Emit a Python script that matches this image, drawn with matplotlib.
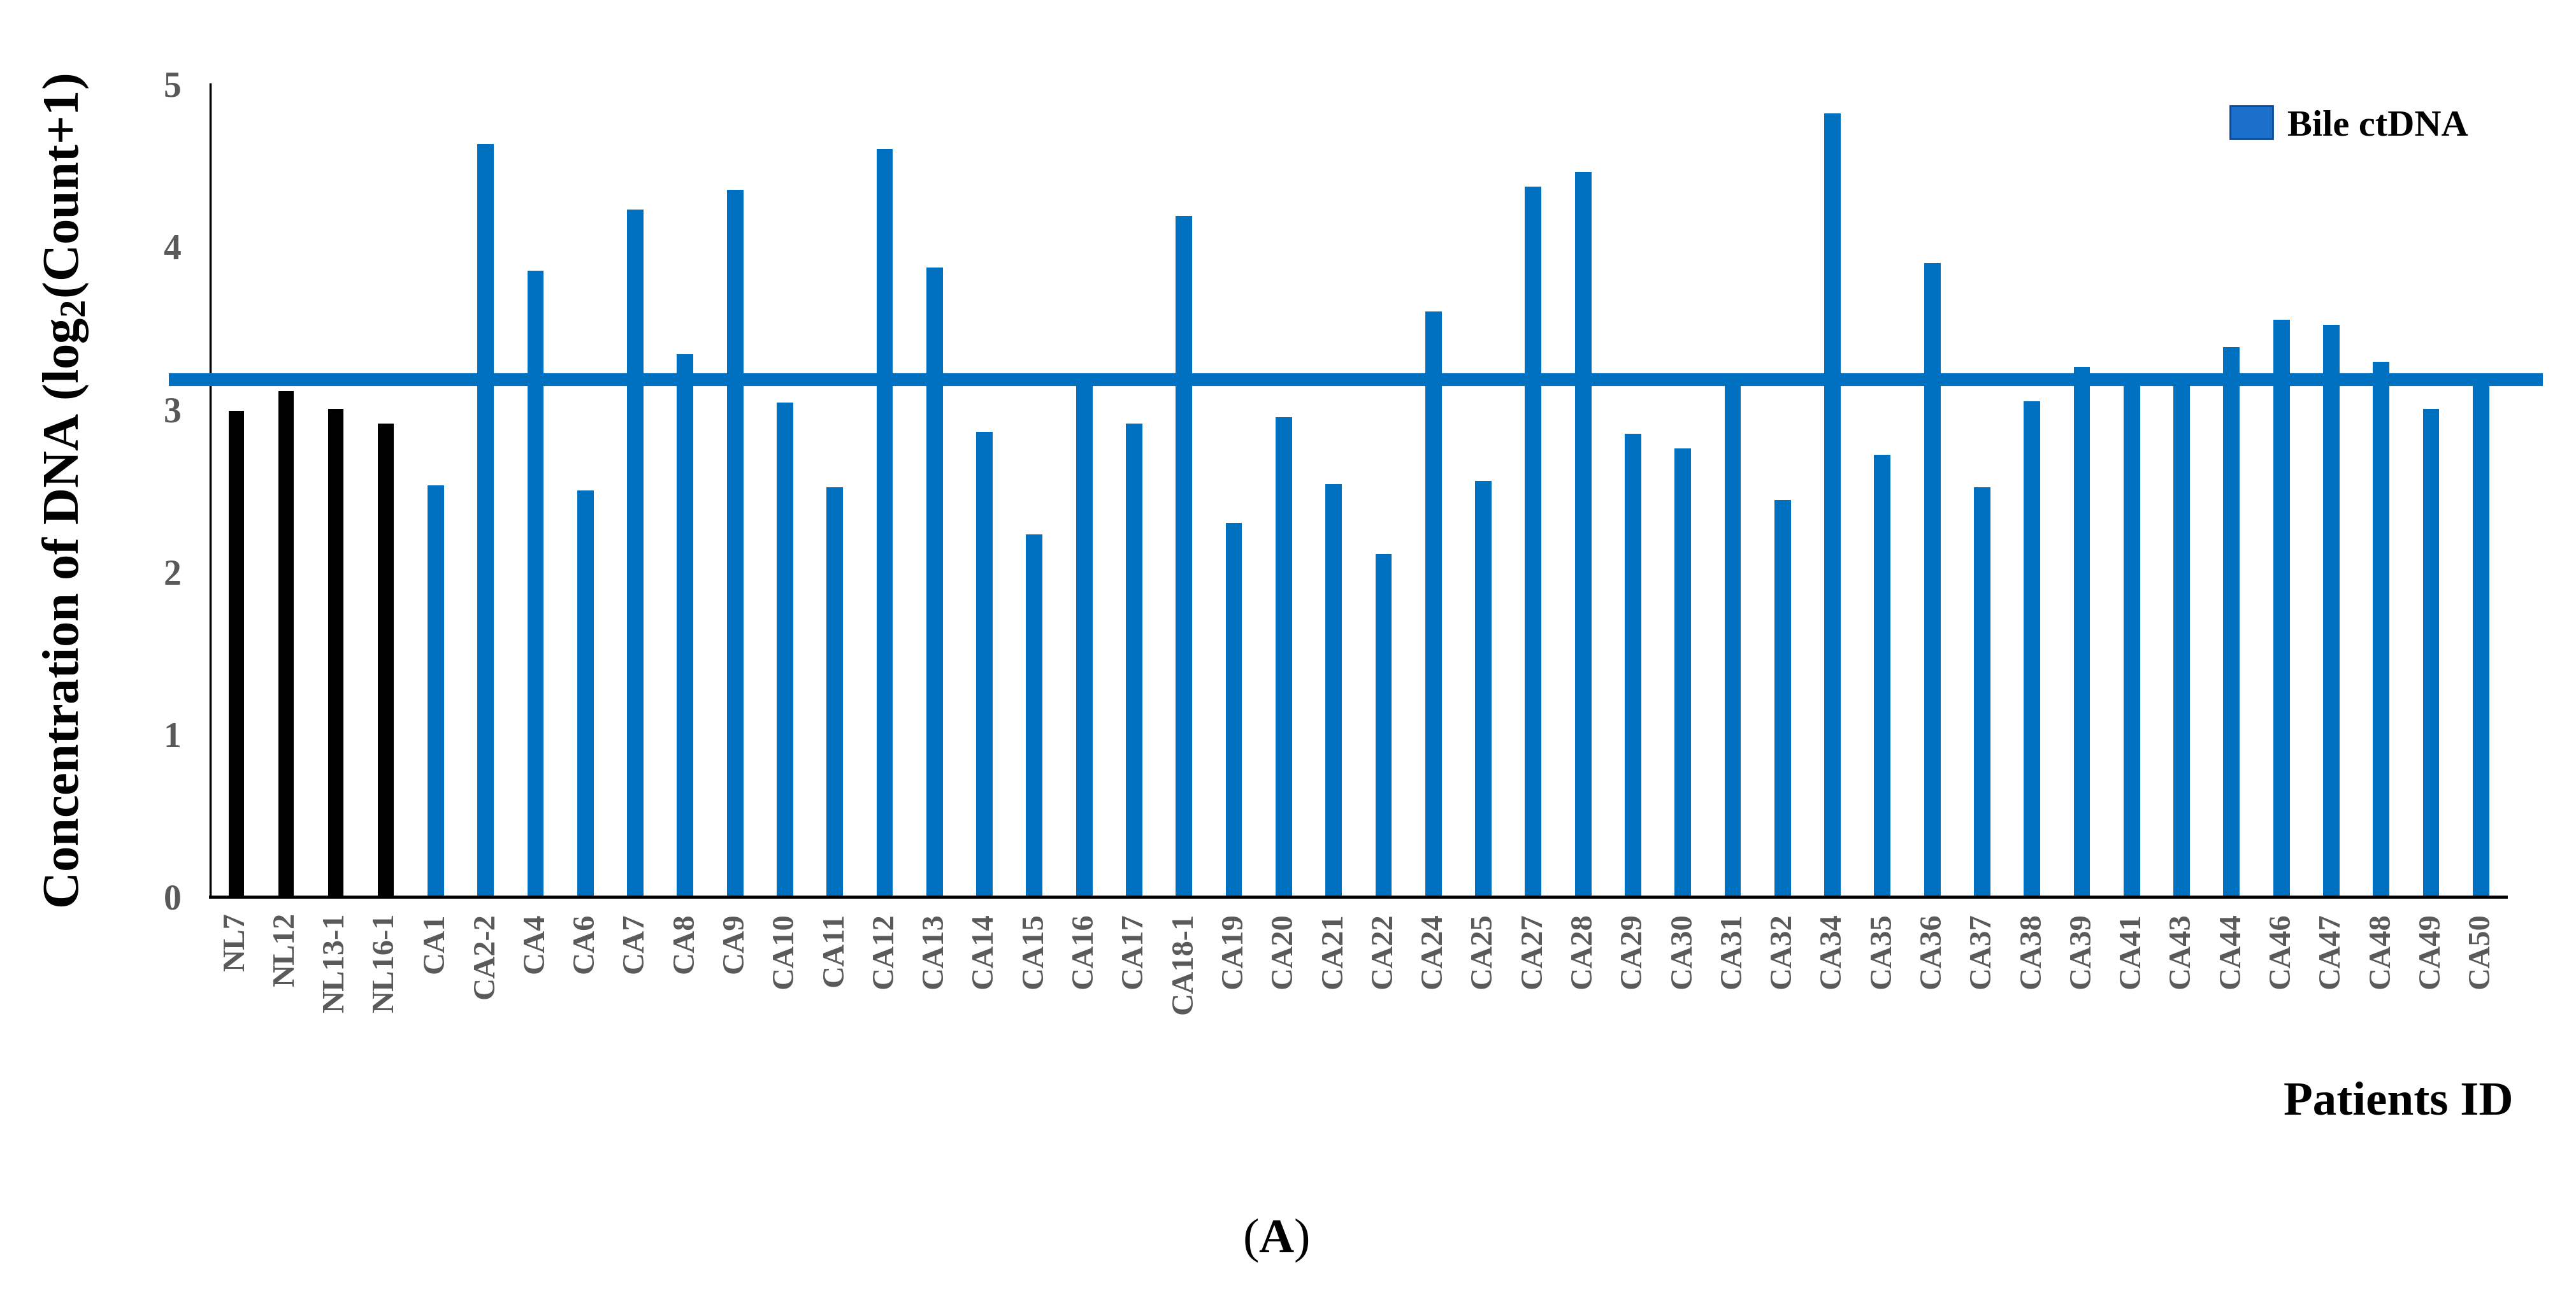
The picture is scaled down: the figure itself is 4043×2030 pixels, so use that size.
import matplotlib
matplotlib.use("Agg")
import matplotlib.pyplot as plt
from matplotlib.patches import Patch

# patient ids, normal controls first then cancer cases
normal_ids = ['NL7', 'NL12', 'NL13-1', 'NL16-1']
normal_vals = [2.99, 3.11, 3.00, 2.91]

cancer_ids = ['CA1', 'CA2-2', 'CA4', 'CA6', 'CA7', 'CA8', 'CA9', 'CA10', 'CA11', 'CA12',
              'CA13', 'CA14', 'CA15', 'CA16', 'CA17', 'CA18-1', 'CA19', 'CA20', 'CA21', 'CA22',
              'CA24', 'CA25', 'CA27', 'CA28', 'CA29', 'CA30', 'CA31', 'CA32', 'CA34', 'CA35',
              'CA36', 'CA37', 'CA38', 'CA39', 'CA41', 'CA43', 'CA44', 'CA46', 'CA47', 'CA48',
              'CA49', 'CA50']
cancer_vals = [2.53, 4.63, 3.85, 2.50, 4.23, 3.34, 4.35, 3.04, 2.52, 4.60,
               3.87, 2.86, 2.23, 3.17, 2.91, 4.19, 2.30, 2.95, 2.54, 2.11,
               3.60, 2.56, 4.37, 4.46, 2.85, 2.76, 3.17, 2.44, 4.82, 2.72,
               3.90, 2.52, 3.05, 3.26, 3.17, 3.17, 3.38, 3.55, 3.52, 3.29,
               3.00, 3.17]

cutoff = 3.18
y_ticks = [0, 1, 2, 3, 4, 5]

plt.rcParams['font.family'] = ['Liberation Serif', 'DejaVu Serif']
plt.rcParams['mathtext.fontset'] = 'custom'
plt.rcParams['mathtext.rm'] = 'Liberation Serif'
plt.rcParams['mathtext.bf'] = 'Liberation Serif:bold'
plt.rcParams['mathtext.default'] = 'bf'

blue = '#0070C0'
gray = '#595959'

fig = plt.figure(figsize=(40.43, 20.30), dpi=100)
ax = fig.add_axes([330 / 4043, 1 - 1408 / 2030, (3933 - 330) / 4043, (1408 - 132) / 2030])

all_ids = normal_ids + cancer_ids
x_normal = list(range(len(normal_ids)))
x_cancer = list(range(len(normal_ids), len(all_ids)))

ax.bar(x_normal, normal_vals, width=0.31, color='black')
ax.bar(x_cancer, cancer_vals, width=0.33, color=blue)

# cut-off line, runs a bit past both ends of the axis
ax.plot([-0.018, 1.016], [cutoff, cutoff], color=blue, lw=14.5,
        transform=ax.get_yaxis_transform(), clip_on=False, solid_capstyle='butt', zorder=3)

ax.set_xlim(-0.52, len(all_ids) - 0.5)
ax.set_ylim(0, 5)
ax.set_xticks(range(len(all_ids)))
ax.set_xticklabels(all_ids, rotation=90, va='top', ha='center')
ax.set_yticks(y_ticks)
ax.set_yticklabels([str(t) for t in y_ticks])

ax.tick_params(axis='x', length=0, pad=18, labelsize=35, labelcolor=gray)
ax.tick_params(axis='y', length=0, pad=33, labelsize=40, labelcolor=gray)
for lbl in ax.get_xticklabels() + ax.get_yticklabels():
    lbl.set_fontweight('bold')

ax.spines['top'].set_visible(False)
ax.spines['right'].set_visible(False)
ax.spines['left'].set_linewidth(2.5)
ax.spines['bottom'].set_linewidth(3.5)

handle = Patch(facecolor='#1A6FCB', edgecolor='#0D4A96', linewidth=2)
fig.legend([handle], ['Bile ctDNA'], loc='center left',
           bbox_to_anchor=(3500 / 4043, 1 - 195 / 2030), frameon=False,
           prop={'family': 'Liberation Serif', 'weight': 'bold', 'size': 42},
           handlelength=1.15, handleheight=1.0, handletextpad=0.4, borderpad=0, borderaxespad=0)

fig.text(103 / 4043, 1 - 771 / 2030, 'Concentration of DNA (log$_2$(Count+1)',
         rotation=90, ha='center', va='center', fontsize=58, fontweight='bold', color='black')
fig.text(3945 / 4043, 1 - 1732 / 2030, 'Patients ID', ha='right', va='center',
         fontsize=54, fontweight='bold', color='black')
fig.text(2002 / 4043, 1 - 1947 / 2030, '($A$)', ha='center', va='center',
         fontsize=55, color='black')

fig.savefig('out.png', dpi=100, facecolor='white')
